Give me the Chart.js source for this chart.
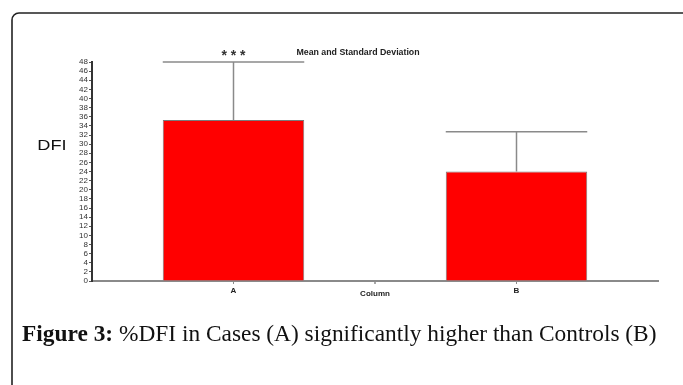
<!DOCTYPE html>
<html>
<head>
<meta charset="utf-8">
<script src="https://cdn.jsdelivr.net/npm/chart.js@4"></script>
<style>
  html, body { margin: 0; padding: 0; background: #fff; }
  #wrap { position: relative; width: 683px; height: 385px; overflow: hidden; }
</style>
</head>
<body>
<div id="wrap"><canvas id="dfi-chart" width="683" height="385"></canvas></div>
<script>
  // values
  const groups = ['A', 'B'];
  const means = [35.3, 24.0];
  const stdDevs = [12.7, 8.7];
  const yTicks = [0, 48, 2];   // min, max, step

  const chartTitle = 'Mean and Standard Deviation';
  const xTitle = 'Column';
  const yTitle = 'DFI';
  const signif = '* * *';
  const captionBold = 'Figure 3:';
  const captionText = ' %DFI in Cases (A) significantly higher than Controls (B)';

  // frame, labels, error bars and caption drawn on top of the bars
  const decorPlugin = {
    id: 'decor',
    afterDatasetsDraw(chart) {
      const ctx = chart.ctx;
      const x = chart.scales.x;
      const y = chart.scales.y;
      const meta = chart.getDatasetMeta(0);

      // error bars (mean + 1 SD)
      ctx.save();
      ctx.strokeStyle = '#8a8a8a';
      ctx.lineWidth = 1.5;
      meta.data.forEach((bar, i) => {
        const top = y.getPixelForValue(means[i] + stdDevs[i]);
        const half = bar.width / 2;
        ctx.beginPath();
        ctx.moveTo(bar.x, bar.y);
        ctx.lineTo(bar.x, top);
        ctx.moveTo(bar.x - half, top);
        ctx.lineTo(bar.x + half, top);
        ctx.stroke();
      });

      // tick between the two groups
      const mid = (x.getPixelForValue(0) + x.getPixelForValue(1)) / 2;
      ctx.beginPath();
      ctx.moveTo(mid, y.bottom);
      ctx.lineTo(mid, y.bottom + 3);
      ctx.stroke();
      ctx.restore();

      ctx.save();
      ctx.fillStyle = '#222';
      ctx.textAlign = 'center';
      ctx.textBaseline = 'middle';
      ctx.font = 'bold 8.8px "Liberation Sans", Arial, sans-serif';
      ctx.fillText(chartTitle, 358, 53);
      ctx.font = 'bold 8px "Liberation Sans", Arial, sans-serif';
      ctx.fillText(xTitle, (x.left + x.right) / 2, 294);
      ctx.font = 'bold 14px "Liberation Sans", Arial, sans-serif';
      ctx.fillStyle = '#333';
      ctx.fillText(signif, meta.data[0].x, 56);

      // y axis label, slightly stretched like the source
      ctx.fillStyle = '#111';
      ctx.font = '14px "Liberation Sans", Arial, sans-serif';
      ctx.translate(52, 146);
      ctx.scale(1.3, 1);
      ctx.fillText(yTitle, 0, 0);
      ctx.restore();

      // rounded frame (cut off at right and bottom)
      ctx.save();
      ctx.strokeStyle = '#222';
      ctx.lineWidth = 1.6;
      ctx.beginPath();
      ctx.roundRect(12, 13, 700, 400, 7);
      ctx.stroke();
      ctx.restore();

      // caption, fitted to the source width
      ctx.save();
      ctx.fillStyle = '#111';
      ctx.textBaseline = 'alphabetic';
      const boldFont = s => 'bold ' + s + 'px "Liberation Serif", "Times New Roman", serif';
      const normFont = s => s + 'px "Liberation Serif", "Times New Roman", serif';
      let size = 20;
      ctx.font = boldFont(size);
      let w1 = ctx.measureText(captionBold).width;
      ctx.font = normFont(size);
      let w2 = ctx.measureText(captionText).width;
      size = size * 635 / (w1 + w2);
      ctx.font = boldFont(size);
      w1 = ctx.measureText(captionBold).width;
      ctx.fillText(captionBold, 22, 341);
      ctx.font = normFont(size);
      ctx.fillText(captionText, 22 + w1, 341);
      ctx.restore();
    }
  };

  function initChart() {
    const ctx = document.getElementById('dfi-chart').getContext('2d');
    new Chart(ctx, {
      type: 'bar',
      data: {
        labels: groups,
        datasets: [{
          data: means,
          backgroundColor: '#ff0000',
          borderColor: '#7a7a7a',
          borderWidth: 1,
          barPercentage: 0.5,
          categoryPercentage: 1
        }]
      },
      options: {
        responsive: false,
        animation: false,
        layout: { padding: { left: 0, right: 25, top: 62, bottom: 0 } },
        plugins: {
          legend: { display: false },
          title: { display: false },
          tooltip: { enabled: false }
        },
        scales: {
          x: {
            grid: { drawOnChartArea: false, offset: false, tickLength: 3, color: '#8a8a8a', lineWidth: 1 },
            border: { color: '#8a8a8a', width: 2 },
            ticks: {
              padding: 2,
              color: '#222',
              font: { family: '"Liberation Sans", Arial, sans-serif', size: 8, weight: 'bold' }
            },
            afterFit: (scale) => { scale.height = 104; }
          },
          y: {
            min: yTicks[0],
            max: yTicks[1],
            grid: { drawOnChartArea: false, tickLength: 3, color: '#555', lineWidth: 1 },
            border: { color: '#333', width: 2 },
            ticks: {
              stepSize: yTicks[2],
              autoSkip: false,
              padding: 1,
              color: '#333',
              font: { family: '"Liberation Sans", Arial, sans-serif', size: 8 }
            },
            afterFit: (scale) => { scale.width = 92; }
          }
        }
      },
      plugins: [decorPlugin]
    });
  }

  initChart();
</script>
</body>
</html>
